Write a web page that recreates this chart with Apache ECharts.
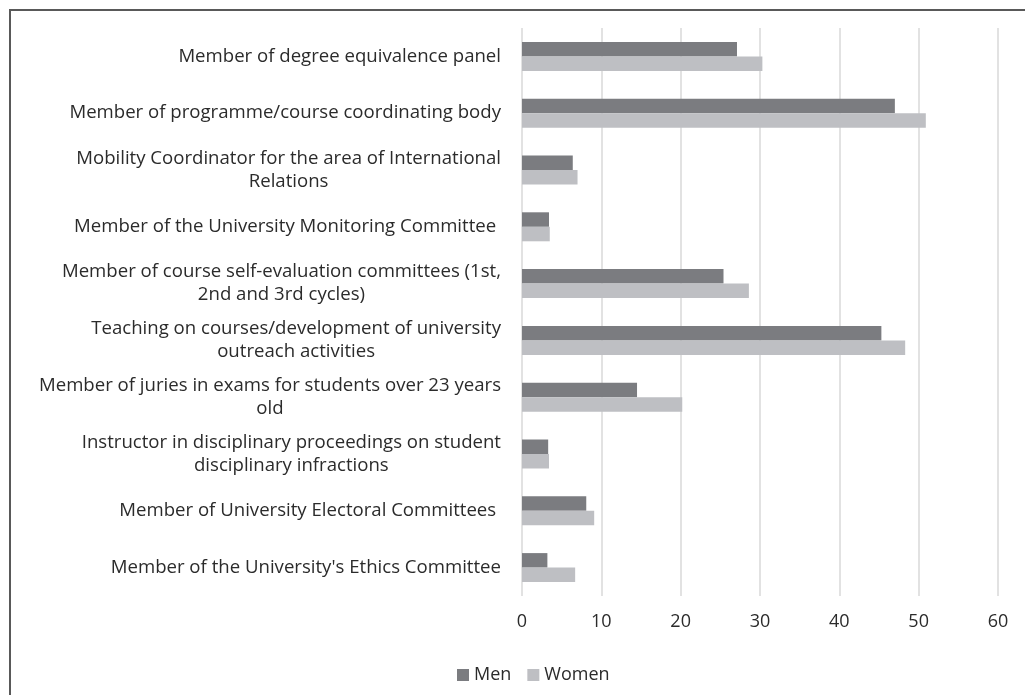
<!DOCTYPE html>
<html>
<head>
<meta charset="utf-8">
<script src="https://cdn.jsdelivr.net/npm/echarts@6/dist/echarts.min.js"></script>
<style>
    html, body { margin: 0; padding: 0; overflow: hidden; background: #fff; }
    #chart { position: absolute; left: 0; top: 0; width: 1025px; height: 695px; }
    #frame { position: absolute; left: 9px; top: 9px; width: 1100px; height: 800px; border: 2px solid #595959; pointer-events: none; }
</style>
</head>
<body>
<div id="chart"></div>
<div id="frame"></div>
<script>
const roles = [
    "Member of degree equivalence panel",
    "Member of programme/course coordinating body",
    "Mobility Coordinator for the area of International\nRelations",
    "Member of the University Monitoring Committee ",
    "Member of course self-evaluation committees (1st,\n2nd and 3rd cycles)",
    "Teaching on courses/development of university\noutreach activities",
    "Member of juries in exams for students over 23 years\nold",
    "Instructor in disciplinary proceedings on student\ndisciplinary infractions",
    "Member of University Electoral Committees ",
    "Member of the University's Ethics Committee"
];
const men = [27.1, 47.0, 6.4, 3.4, 25.4, 45.3, 14.5, 3.3, 8.1, 3.2];
const women = [30.3, 50.9, 7.0, 3.5, 28.6, 48.3, 20.2, 3.4, 9.1, 6.7];
const seriesNames = ['Men', 'Women'];

const font = 'Open Sans';
const fontSize = 18;
const labelSize = 18.6;
const textColor = '#2b2b2b';

var chartDom = document.getElementById('chart');
var myChart = echarts.init(chartDom);
var option;

option = {
    backgroundColor: '#fff',
    animation: false,
    grid: {
        left: 522,
        right: 27,
        top: 28,
        bottom: 99,
        outerBoundsMode: 'none'
    },
    legend: {
        data: seriesNames,
        left: 452,
        top: 661,
        icon: 'rect',
        itemWidth: 12,
        itemHeight: 12,
        itemGap: 16,
        textStyle: { fontFamily: font, fontSize: fontSize, color: textColor }
    },
    xAxis: {
        type: 'value',
        min: 0,
        max: 60,
        interval: 10,
        axisLine: { show: false },
        axisTick: { show: false },
        axisLabel: { margin: 17, fontFamily: font, fontSize: fontSize, color: textColor },
        splitLine: { lineStyle: { color: '#d9d9d9', width: 1.5 } }
    },
    yAxis: {
        type: 'category',
        data: roles,
        inverse: true,
        axisLine: { show: false },
        axisTick: { show: false },
        axisLabel: {
            margin: 21,
            fontFamily: font,
            fontSize: labelSize,
            color: textColor,
            lineHeight: 23,
            formatter: (value) => {
                return value.split('\n').map(s => '{c|' + s + '}').join('\n');
            },
            rich: {
                c: { align: 'center', fontFamily: font, fontSize: labelSize, color: textColor, lineHeight: 23 }
            }
        }
    },
    series: [
        {
            name: 'Men',
            type: 'bar',
            data: men,
            barWidth: 14.5,
            barGap: '0%',
            itemStyle: { color: '#7b7c80' }
        },
        {
            name: 'Women',
            type: 'bar',
            data: women,
            barWidth: 14.5,
            barGap: '0%',
            itemStyle: { color: '#bebfc3' }
        }
    ]
};

option && myChart.setOption(option);
</script>
</body>
</html>
